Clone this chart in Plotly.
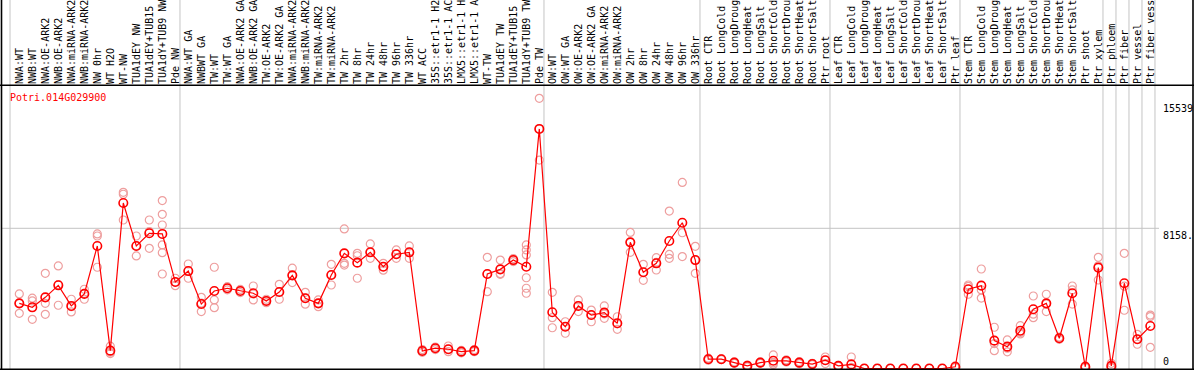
import plotly.graph_objects as go

# ---------------- data ----------------
gene_name = "Potri.014G029900"

categories = [
    "NWA:WT", "NWB:WT", "NWA:OE-ARK2", "NWB:OE-ARK2", "NWA:miRNA-ARK2", "NWB:miRNA-ARK2",
    "NW 0hr", "WT H2O", "WT-NW", "TUA1dEY NW", "TUA1dEY+TUB15", "TUA1dY+TUB9 NW", "Pde NW",
    "NWA:WT GA", "NWBWT GA", "TW:WT", "TW:WT GA", "NWA:OE-ARK2 GA", "NWB:OE-ARK2 GA",
    "TW:OE-ARK2", "TW:OE-ARK2 GA", "NWA:miRNA-ARK2", "NWB:miRNA-ARK2", "TW:miRNA-ARK2",
    "TW:miRNA-ARK2", "TW 2hr", "TW 8hr", "TW 24hr", "TW 48hr", "TW 96hr", "TW 336hr",
    "WT ACC", "35S::etr1-1 H2O", "35S::etr1-1 ACC", "LMX5::etr1-1 H2O", "LMX5::etr1-1 ACC",
    "WT-TW", "TUA1dEY TW", "TUA1dEY+TUB15", "TUA1dY+TUB9 TW", "Pde TW",
    "OW:WT", "OW:WT GA", "OW:OE-ARK2", "OW:OE-ARK2 GA", "OW:miRNA-ARK2", "OW:miRNA-ARK2",
    "OW 2hr", "OW 8hr", "OW 24hr", "OW 48hr", "OW 96hr", "OW 336hr",
    "Root CTR", "Root LongCold", "Root LongDrought", "Root LongHeat", "Root LongSalt",
    "Root ShortCold", "Root ShortDrought", "Root ShortHeat", "Root ShortSalt", "Ptr root",
    "Leaf CTR", "Leaf LongCold", "Leaf LongDrought", "Leaf LongHeat", "Leaf LongSalt",
    "Leaf ShortCold", "Leaf ShortDrought", "Leaf ShortHeat", "Leaf ShortSalt", "Ptr leaf",
    "Stem CTR", "Stem LongCold", "Stem LongDrought", "Stem LongHeat", "Stem LongSalt",
    "Stem ShortCold", "Stem ShortDrought", "Stem ShortHeat", "Stem ShortSalt", "Ptr shoot",
    "Ptr xylem", "Ptr phloem", "Ptr fiber", "Ptr vessel", "Ptr fiber vessel",
]

mean_values = [
    3790, 3560, 4140, 4840, 3640, 4340, 7130, 1040, 9630, 7130, 7870, 7830, 5030,
    5670, 3750, 4510, 4670, 4510, 4380, 3930, 4450, 5420, 4090, 3790, 5440, 6700, 6160,
    6760, 5920, 6650, 6760, 1020, 1180, 1120, 980, 1040, 5500, 5770, 6310, 5920, 13940,
    3270, 2430, 3640, 3110, 3250, 2630, 7340, 5600, 6120, 7420, 8480, 6310,
    540, 540, 340, 150, 340, 450, 440, 340, 260, 480,
    150, 240, 0, 0, 0, 0, 0, 0, 0, 100,
    4610, 4820, 1620, 1270, 2200, 3450, 3790, 1760, 4380, 100, 5870,
    150, 4960, 1700, 2470,
]

replicate_values = [
    [4340, 3790, 3210], [4090, 3930, 2860], [5540, 3790, 3150], [5970, 4880, 3680],
    [4030, 3600, 3290], [4610, 4370, 4030], [7830, 7710, 5890], [1300, 950, 870],
    [10250, 10140, 8640], [7710, 7130, 6550], [8640, 7970, 6990],
    [9770, 8970, 8350, 7190, 6740, 5500], [5250, 5030, 4820],
    [6080, 5680, 5250], [4140, 3800, 3310], [5890, 3990, 3540], [4760, 4670, 4580],
    [4600, 4510, 4420], [4800, 4340, 3990], [4030, 3930, 3830], [4900, 4450, 4030],
    [5840, 5420, 5000], [4430, 4090, 3740], [3990, 3790, 3600], [6060, 5440, 4860],
    [8120, 6120, 6020], [6700, 6560, 5250], [7250, 6760, 6410], [6120, 5920, 5720],
    [6900, 6650, 6410], [7130, 6760, 6410], [1100, 1020, 940], [1250, 1180, 1100],
    [1310, 1120, 980], [1050, 980, 910], [1100, 1040, 980], [6470, 5500, 4470],
    [6310, 5520, 5480], [6400, 6310, 6220], [7190, 6900, 6610, 5280, 4670, 4380],
    [15720, 13940, 12130],
    [4430, 2960, 2370], [2720, 2430, 2050], [3990, 3640, 3310], [3400, 3110, 2720],
    [3640, 3180, 2920], [3010, 2600, 2280], [7920, 7340, 6760], [6060, 5600, 5130],
    [6450, 6180, 5730], [9160, 6640, 6410], [10830, 7900, 6510], [7110, 6310, 5540],
    [600, 540, 480], [560, 540, 520], [380, 340, 300], [200, 150, 100], [380, 340, 300],
    [790, 330, 240], [500, 440, 380], [400, 340, 280], [300, 260, 220], [670, 480, 290],
    [180, 150, 120], [670, 60, 0], [0, 0, 0], [0, 0, 0], [0, 0, 0], [0, 0, 0],
    [0, 0, 0], [0, 0, 0], [0, 0, 0], [150, 100, 50],
    [4860, 4780, 4320], [5790, 4570, 4100], [2400, 1450, 1040], [1660, 1180, 970],
    [2490, 2100, 2010], [4220, 3160, 2960], [4320, 3760, 3310], [1820, 1760, 1700],
    [4800, 4570, 3750], [150, 100, 50], [6470, 5980, 5150],
    [300, 100, 50], [6700, 4790, 3390], [1990, 1700, 1410], [3110, 3020, 1230],
]

# last category index of each block (group separators drawn after these)
group_end_index = [12, 40, 52, 62, 72, 83, 84, 85, 86, 87]

axis_labels = ["15539", "8158.", "0"]
axis_label_values = [15539, 8158, 0]
grid_value = 8158

# ---------------- figure ----------------
W, H = 1194, 370
FONT = "DejaVu Sans Mono"
RED = "#ff0000"
PINK = "#ee9e9e"
GRID = "#c4c4c4"

n = len(categories)
x_idx = list(range(n))

rep_x, rep_y = [], []
for i, reps in enumerate(replicate_values):
    for r in reps:
        rep_x.append(i)
        rep_y.append(r)

fig = go.Figure()
fig.add_trace(go.Scatter(
    x=rep_x, y=rep_y, mode="markers",
    marker=dict(symbol="circle-open", size=8, color=PINK, line=dict(width=1.2, color=PINK)),
    hoverinfo="skip", showlegend=False,
))
fig.add_trace(go.Scatter(
    x=x_idx, y=mean_values, mode="lines+markers",
    line=dict(color=RED, width=1.2),
    marker=dict(symbol="circle-open", size=8.5, color=RED, line=dict(width=1.6, color=RED)),
    showlegend=False,
))

# plot area geometry (pixels)
L, R, T, B = 2, 0, 85, 1
plot_w = W - L - R
plot_h = H - T - B
x0_px, step_px = 19.3, 13.0
x_lo = (L - x0_px) / step_px
x_hi = (W - R - x0_px) / step_px
zero_px, px_per_unit = 368.5, 0.017186
y_lo = (zero_px - (H - B)) / px_per_unit
y_hi = (zero_px - T) / px_per_unit

def px_to_paper_x(px):
    return (px - L) / plot_w

def px_to_paper_y(py):
    return (H - B - py) / plot_h

shapes = []
# group separators (light gray, full height including label area)
sep_positions = [(10 - x0_px) / step_px] + [e + 0.36 for e in group_end_index]
for s in sep_positions:
    shapes.append(dict(type="line", xref="x", yref="paper", x0=s, x1=s,
                       y0=px_to_paper_y(370), y1=px_to_paper_y(0),
                       line=dict(color=GRID, width=1), layer="below"))
# horizontal grid line
shapes.append(dict(type="line", xref="paper", yref="y",
                   x0=px_to_paper_x(2), x1=px_to_paper_x(1159), y0=grid_value, y1=grid_value,
                   line=dict(color=GRID, width=1), layer="below"))
# black frame lines
blk = dict(color="black", width=1.6)
shapes.append(dict(type="line", xref="paper", yref="paper",
                   x0=px_to_paper_x(1.5), x1=px_to_paper_x(1.5),
                   y0=px_to_paper_y(370), y1=px_to_paper_y(0), line=blk))
shapes.append(dict(type="line", xref="paper", yref="paper",
                   x0=px_to_paper_x(1193), x1=px_to_paper_x(1193),
                   y0=px_to_paper_y(370), y1=px_to_paper_y(0), line=blk))
shapes.append(dict(type="line", xref="paper", yref="paper",
                   x0=px_to_paper_x(0), x1=px_to_paper_x(1194),
                   y0=px_to_paper_y(85.2), y1=px_to_paper_y(85.2), line=blk))
shapes.append(dict(type="line", xref="paper", yref="paper",
                   x0=px_to_paper_x(0), x1=px_to_paper_x(1194),
                   y0=px_to_paper_y(369.2), y1=px_to_paper_y(369.2), line=blk))

annotations = [
    dict(text=gene_name, xref="paper", yref="paper", x=px_to_paper_x(8), y=px_to_paper_y(97.5),
         xanchor="left", yanchor="middle", showarrow=False,
         font=dict(family=FONT, size=10, color=RED)),
]
anchors = ["top", "top", "bottom"]
for lab, val, anc in zip(axis_labels, axis_label_values, anchors):
    annotations.append(dict(text=lab, xref="paper", yref="y", x=px_to_paper_x(1161), y=val,
                            xanchor="left", yanchor=anc, showarrow=False,
                            font=dict(family=FONT, size=10, color="black")))

fig.update_layout(
    width=W, height=H, template="none",
    margin=dict(l=L, r=R, t=T, b=B, pad=0),
    paper_bgcolor="white", plot_bgcolor="white",
    showlegend=False,
    shapes=shapes, annotations=annotations,
    xaxis=dict(range=[x_lo, x_hi], side="top", tickmode="array", tickvals=x_idx,
               ticktext=categories, tickangle=-90, ticks="", showgrid=False,
               zeroline=False, showline=False, automargin=False,
               tickfont=dict(family=FONT, size=10, color="black")),
    yaxis=dict(range=[y_lo, y_hi], showgrid=False, zeroline=False, showline=False,
               showticklabels=False, ticks="", automargin=False),
)

fig.write_html("out.html", config={"displayModeBar": False},
               post_script="document.body.style.margin='0';document.body.style.padding='0';")
